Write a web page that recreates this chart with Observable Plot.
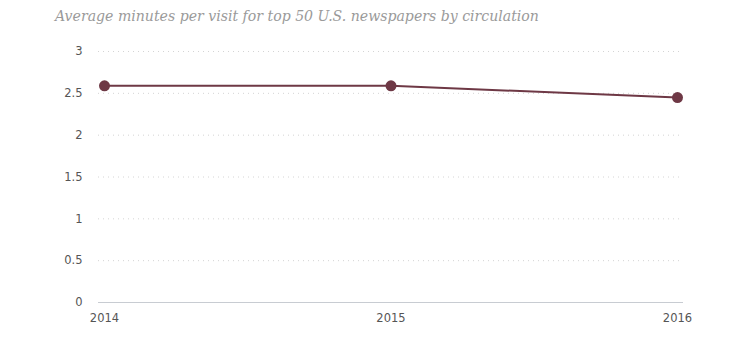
<!DOCTYPE html>
<html><head><meta charset="utf-8">
<script src="https://cdn.jsdelivr.net/npm/d3@7"></script>
<script src="https://cdn.jsdelivr.net/npm/@observablehq/plot@0.6"></script>
<style>
body{margin:0;background:#fff;}
#title{height:36px;box-sizing:border-box;padding:8px 0 0 55px;font-family:"DejaVu Serif",serif;font-style:italic;font-size:14.1px;color:#9a9a9a;white-space:nowrap;}
</style></head><body>
<div id="title">Average minutes per visit for top 50 U.S. newspapers by circulation</div>
<div id="chart"></div>
<script>
const years = [2014, 2015, 2016];
const minutes = [2.59, 2.59, 2.45];
const yTicks = [0, 0.5, 1, 1.5, 2, 2.5, 3];
const data = years.map((y, i) => ({year: y, value: minutes[i]}));

const chart = Plot.plot({
  width: 744, height: 318,
  marginTop: 15, marginBottom: 52, marginLeft: 98, marginRight: 61,
  style: {fontFamily: "'DejaVu Sans', sans-serif", fontSize: "11.5px", color: "#555"},
  x: {type: "linear", domain: [2014, 2016], insetLeft: 6, insetRight: 6, label: null},
  y: {domain: [0, 3], label: null},
  marks: [
    Plot.gridY(yTicks, {stroke: "#d4d4d4", strokeOpacity: 1, strokeDasharray: "1,4"}),
    Plot.ruleY([0], {stroke: "#c8ccd2"}),
    Plot.axisY(yTicks, {tickSize: 0, tickPadding: 16, tickFormat: d => String(d), fill: "#555"}),
    Plot.axisX(years, {tickSize: 0, tickPadding: 11, tickFormat: d => String(d), fill: "#555"}),
    Plot.line(data, {x: "year", y: "value", stroke: "#6e3845", strokeWidth: 2}),
    Plot.dot(data, {x: "year", y: "value", fill: "#6e3845", r: 5.5})
  ]
});
document.getElementById("chart").append(chart);
</script>
</body></html>
